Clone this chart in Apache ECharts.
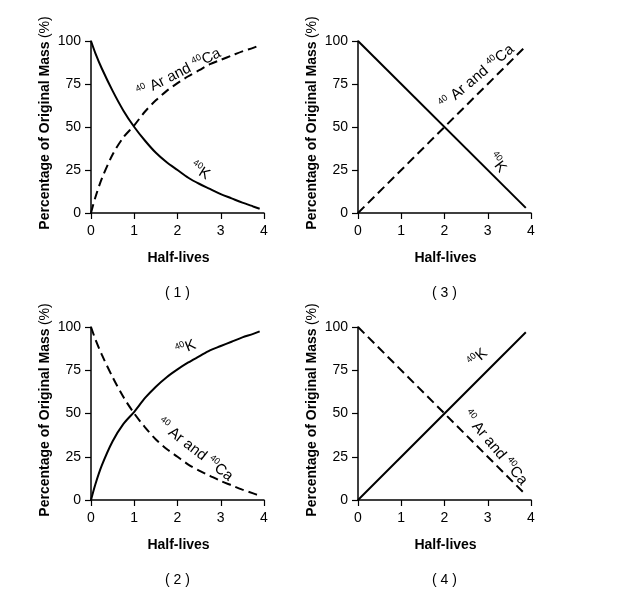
<!DOCTYPE html>
<html>
<head>
<meta charset="utf-8">
<script src="https://cdn.jsdelivr.net/npm/echarts@6/dist/echarts.min.js"></script>
<style>
html,body{margin:0;padding:0;background:#fff}
#chart{width:623px;height:594px}
</style>
</head>
<body>
<div id="chart"></div>
<script>
// values
var halfLives    = [0, 0.1, 0.25, 0.5, 0.75, 1, 1.25, 1.5, 1.75, 2, 2.25, 2.5, 2.75, 3, 3.25, 3.5, 3.75, 3.9];
var parentLeft   = [100, 93, 84, 71, 59.5, 50, 42, 35, 29.5, 25, 20.5, 17, 14, 11, 8.5, 6, 3.8, 2.5];
var daughterMade = [0, 9, 20, 34, 44, 51, 59, 65.5, 71, 75.5, 79.5, 83, 86.5, 89, 91.5, 94, 96, 97.5];
// straight-line panels
var lineX    = [0, 3.88];
var lineFall = [100, 3];
var lineRise = [0, 97];

var xTicks = [0, 1, 2, 3, 4];
var yTicks = [0, 25, 50, 75, 100];
var panelNames = ['( 1 )', '( 3 )', '( 2 )', '( 4 )'];

var font = 'Liberation Sans, Arial, Helvetica, sans-serif';
var grids = [
  {left: 91, top: 41, width: 173, height: 172},
  {left: 358, top: 41, width: 173, height: 172},
  {left: 91, top: 327, width: 173, height: 173},
  {left: 358, top: 327, width: 173, height: 173}
];

function pairs(xs, ys) {
  return xs.map(function (x, i) { return [x, ys[i]]; });
}

function makeSeries(g, xs, ys, dashed) {
  return {
    type: 'line',
    xAxisIndex: g,
    yAxisIndex: g,
    data: pairs(xs, ys),
    smooth: xs.length > 2 ? 0.3 : false,
    showSymbol: false,
    silent: true,
    lineStyle: {color: '#000', width: 2, type: dashed ? [9, 5] : 'solid'}
  };
}

var axisBase = {
  axisLine: {lineStyle: {color: '#000', width: 1.5}},
  axisTick: {length: 6, lineStyle: {color: '#000', width: 1.2}},
  splitLine: {show: false}
};

var xAxes = grids.map(function (g, i) {
  return Object.assign({}, axisBase, {
    gridIndex: i, type: 'value',
    min: xTicks[0], max: xTicks[xTicks.length - 1], interval: 1,
    axisLabel: {color: '#000', fontSize: 14, fontFamily: font, margin: 11}
  });
});
var yAxes = grids.map(function (g, i) {
  return Object.assign({}, axisBase, {
    gridIndex: i, type: 'value',
    min: yTicks[0], max: yTicks[yTicks.length - 1], interval: 25,
    axisLabel: {color: '#000', fontSize: 14, fontFamily: font, margin: 10}
  });
});

var rich = {
  t: {fontSize: 15, fontFamily: font, fill: '#000', lineHeight: 18},
  s: {fontSize: 9, fontFamily: font, fill: '#000', verticalAlign: 'top', lineHeight: 18}
};
function lab(x, y, deg, text) {
  return {
    type: 'text', x: x, y: y, rotation: deg * Math.PI / 180, silent: true,
    style: {text: text, rich: rich, align: 'center', verticalAlign: 'middle'}
  };
}
var arCa = '{s|40}{t| Ar and }{s|40}{t|Ca}';
var k = '{s|40}{t|K}';

var graphics = [];
grids.forEach(function (g, i) {
  var cx = g.left + g.width / 2;
  var bottom = g.top + g.height;
  // y axis title, set to the left of each panel
  graphics.push({
    type: 'text', x: g.left - 46, y: bottom - 90, rotation: Math.PI / 2, silent: true,
    style: {
      text: '{b|Percentage of Original Mass} {n|(%)}',
      rich: {
        b: {fontSize: 14, fontWeight: 'bold', fontFamily: font, fill: '#000'},
        n: {fontSize: 14, fontFamily: font, fill: '#000'}
      },
      align: 'center', verticalAlign: 'middle'
    }
  });
  graphics.push({
    type: 'text', x: cx + 1, y: bottom + 45, silent: true,
    style: {text: 'Half-lives', fontSize: 14, fontWeight: 'bold', fontFamily: font, fill: '#000', align: 'center', verticalAlign: 'middle'}
  });
  graphics.push({
    type: 'text', x: cx, y: bottom + 80, silent: true,
    style: {text: panelNames[i], fontSize: 14, fontFamily: font, fill: '#000', align: 'center', verticalAlign: 'middle'}
  });
});
graphics.push(lab(179, 73, 27, arCa));
graphics.push(lab(200, 171, -32, k));
graphics.push(lab(477, 77, 40, arCa));
graphics.push(lab(497, 163, -52, k));
graphics.push(lab(186, 348, 22, k));
graphics.push(lab(195, 450, -38, arCa));
graphics.push(lab(478, 358, 42, k));
graphics.push(lab(495, 448, -50, arCa));

var chart = echarts.init(document.getElementById('chart'), null, {renderer: 'canvas'});
chart.setOption({
  animation: false,
  backgroundColor: '#fff',
  grid: grids,
  xAxis: xAxes,
  yAxis: yAxes,
  series: [
    makeSeries(0, halfLives, parentLeft, false),
    makeSeries(0, halfLives, daughterMade, true),
    makeSeries(1, lineX, lineFall, false),
    makeSeries(1, lineX, lineRise, true),
    makeSeries(2, halfLives, daughterMade, false),
    makeSeries(2, halfLives, parentLeft, true),
    makeSeries(3, lineX, lineRise, false),
    makeSeries(3, lineX, lineFall, true)
  ],
  graphic: graphics
});
</script>
</body>
</html>
